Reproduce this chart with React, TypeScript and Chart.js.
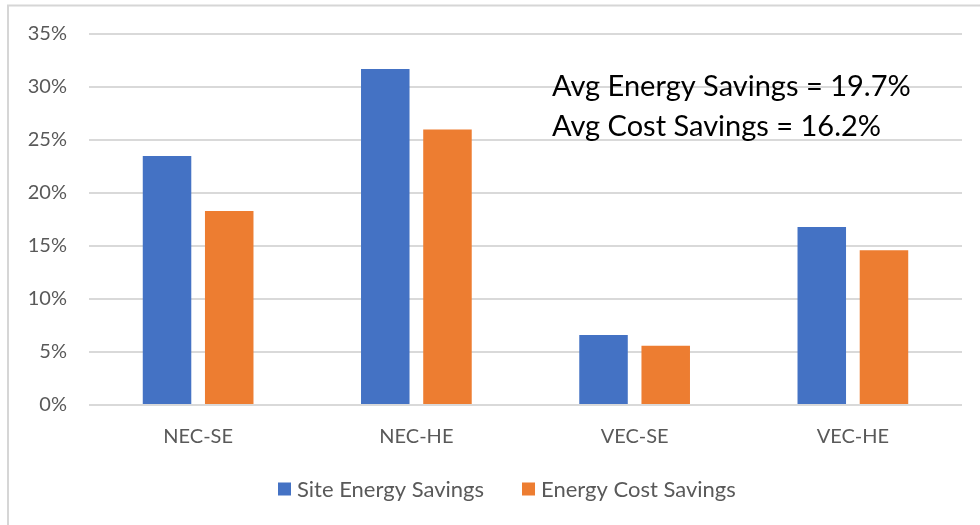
import React, { useEffect, useRef } from "react";
import { Chart, registerables } from "chart.js";

Chart.register(...registerables);

const categories = ["NEC-SE", "NEC-HE", "VEC-SE", "VEC-HE"];
const siteEnergySavings = [23.5, 31.7, 6.6, 16.8];
const energyCostSavings = [18.3, 26.0, 5.6, 14.6];
const seriesLabels = ["Site Energy Savings", "Energy Cost Savings"];
const seriesColors = ["#4472C4", "#ED7D31"];
const annotationLines = ["Avg Energy Savings = 19.7%", "Avg Cost Savings = 16.2%"];

const FONT = "Lato, 'Open Sans', sans-serif";

const frame = {
  id: "frame",
  beforeDraw(chart: any) {
    const ctx = chart.ctx;
    ctx.save();
    ctx.fillStyle = "#ffffff";
    ctx.fillRect(0, 0, chart.width, chart.height);
    ctx.strokeStyle = "#d6d6d6";
    ctx.lineWidth = 2;
    ctx.strokeRect(8, 5.5, chart.width + 20, chart.height + 20);
    ctx.restore();
  },
};

const note = {
  id: "note",
  afterDraw(chart: any) {
    const ctx = chart.ctx;
    ctx.save();
    ctx.fillStyle = "#000000";
    ctx.font = `29px ${FONT}`;
    ctx.textBaseline = "alphabetic";
    ctx.textAlign = "left";
    ctx.fillText(annotationLines[0], 552, 96);
    ctx.fillText(annotationLines[1], 552, 136);
    ctx.restore();
  },
};

const bottomLegend = {
  id: "bottomLegend",
  afterDraw(chart: any) {
    const ctx = chart.ctx;
    ctx.save();
    ctx.font = `22px ${FONT}`;
    ctx.textBaseline = "middle";
    ctx.textAlign = "left";
    const cy = 489;
    let x = 278;
    chart.data.datasets.forEach((ds: any) => {
      ctx.fillStyle = ds.backgroundColor;
      ctx.fillRect(x, cy - 6.5, 13, 13);
      ctx.fillStyle = "#595959";
      ctx.fillText(ds.label, x + 19, cy + 1);
      x += 19 + ctx.measureText(ds.label).width + 38;
    });
    ctx.restore();
  },
};

export default function App() {
  const ref = useRef<HTMLCanvasElement | null>(null);
  useEffect(() => {
    if (!ref.current) return;
    const chart = new Chart(ref.current, {
      type: "bar",
      data: {
        labels: categories,
        datasets: [
          {
            label: seriesLabels[0],
            data: siteEnergySavings,
            backgroundColor: seriesColors[0],
            borderWidth: 0,
          },
          {
            label: seriesLabels[1],
            data: energyCostSavings,
            backgroundColor: seriesColors[1],
            borderWidth: 0,
          },
        ],
      },
      options: {
        responsive: false,
        animation: false,
        layout: { padding: { left: 0, right: 18, top: 34, bottom: 0 } },
        datasets: {
          bar: { categoryPercentage: 0.57, barPercentage: 0.78 },
        },
        plugins: {
          legend: { display: false },
          tooltip: { enabled: false },
        },
        scales: {
          x: {
            grid: { display: false, drawTicks: false },
            border: { display: false },
            ticks: { color: "#595959", font: { family: FONT, size: 20 }, padding: 20 },
            afterFit: (s: any) => {
              s.height = 120;
            },
          },
          y: {
            min: 0,
            max: 35,
            ticks: {
              stepSize: 5,
              color: "#595959",
              font: { family: FONT, size: 20 },
              padding: 22,
              callback: (v: any) => `${v}%`,
            },
            grid: { color: "#d9d9d9", lineWidth: 2, drawTicks: false },
            border: { display: false },
            afterFit: (s: any) => {
              s.width = 89;
            },
          },
        },
      },
      plugins: [frame, note, bottomLegend],
    });
    return () => chart.destroy();
  }, []);
  return (
    <div style={{ position: "absolute", left: 0, top: 0, width: 980, height: 525 }}>
      <canvas ref={ref} width={980} height={525} style={{ display: "block" }} />
    </div>
  );
}
